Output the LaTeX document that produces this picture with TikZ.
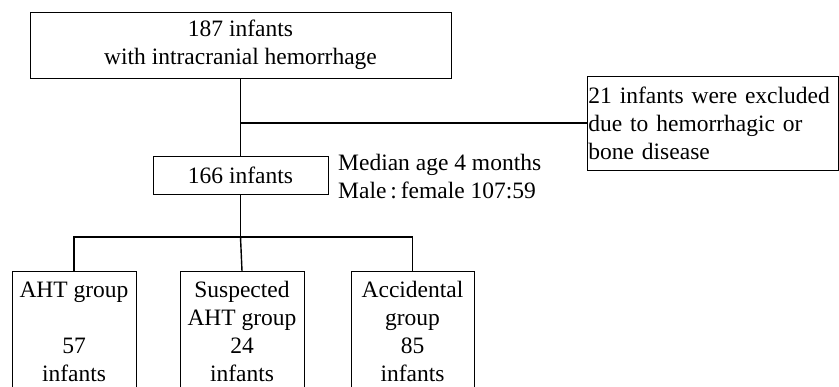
\documentclass[tikz,border=0pt]{standalone}
\usepackage{fontspec}
\setmainfont{Liberation Serif}
\usetikzlibrary{positioning}

\tikzset{
    flowbox/.style={draw, line width=0.9pt, align=center, inner sep=0pt},
    note/.style={align=left, inner sep=0pt, anchor=west},
    link/.style={line width=1.4pt},
}

\begin{document}
\begin{tikzpicture}[x=1pt, y=-1pt, font=\fontsize{23.5}{28}\selectfont]
    \useasboundingbox (0,0) rectangle (839,387);
    \clip (0,0) rectangle (839,387);

    \node[flowbox, minimum width=421, minimum height=66] (total) at (240.5,45)
        {187 infants\\with intracranial hemorrhage};
    \node[flowbox, minimum width=251, minimum height=94, align=left, anchor=west,
          text width=249, inner xsep=1] (excl) at (587,123)
        {21 infants were excluded\\due to hemorrhagic or\\bone disease};
    \node[flowbox, minimum width=175, minimum height=38] (incl) at (240.5,175)
        {166 infants};
    \node[note] (stats) at (338,177)
        {Median age 4 months\\Male\,:\,female 107:59};

    \node[flowbox, minimum width=124, minimum height=121, anchor=north] (aht) at (74,271)
        {AHT group\\~\\57\\infants};
    \node[flowbox, minimum width=124, minimum height=121, anchor=north] (susp) at (242,271)
        {Suspected\\AHT group\\24\\infants};
    \node[flowbox, minimum width=123, minimum height=121, anchor=north] (acc) at (412.5,271)
        {Accidental\\group\\85\\infants};

    \coordinate (split) at (total.south |- excl.west);
    \coordinate (fork) at (240.5,237);

    \draw[link] (total.south) -- (incl.north);
    \draw[link] (split) -- (excl.west);
    \draw[link] (incl.south) -- (fork);
    \draw[link] (aht.north) |- (fork) -| (acc.north);
    \draw[link] (fork) -- (susp.north);
\end{tikzpicture}
\end{document}
